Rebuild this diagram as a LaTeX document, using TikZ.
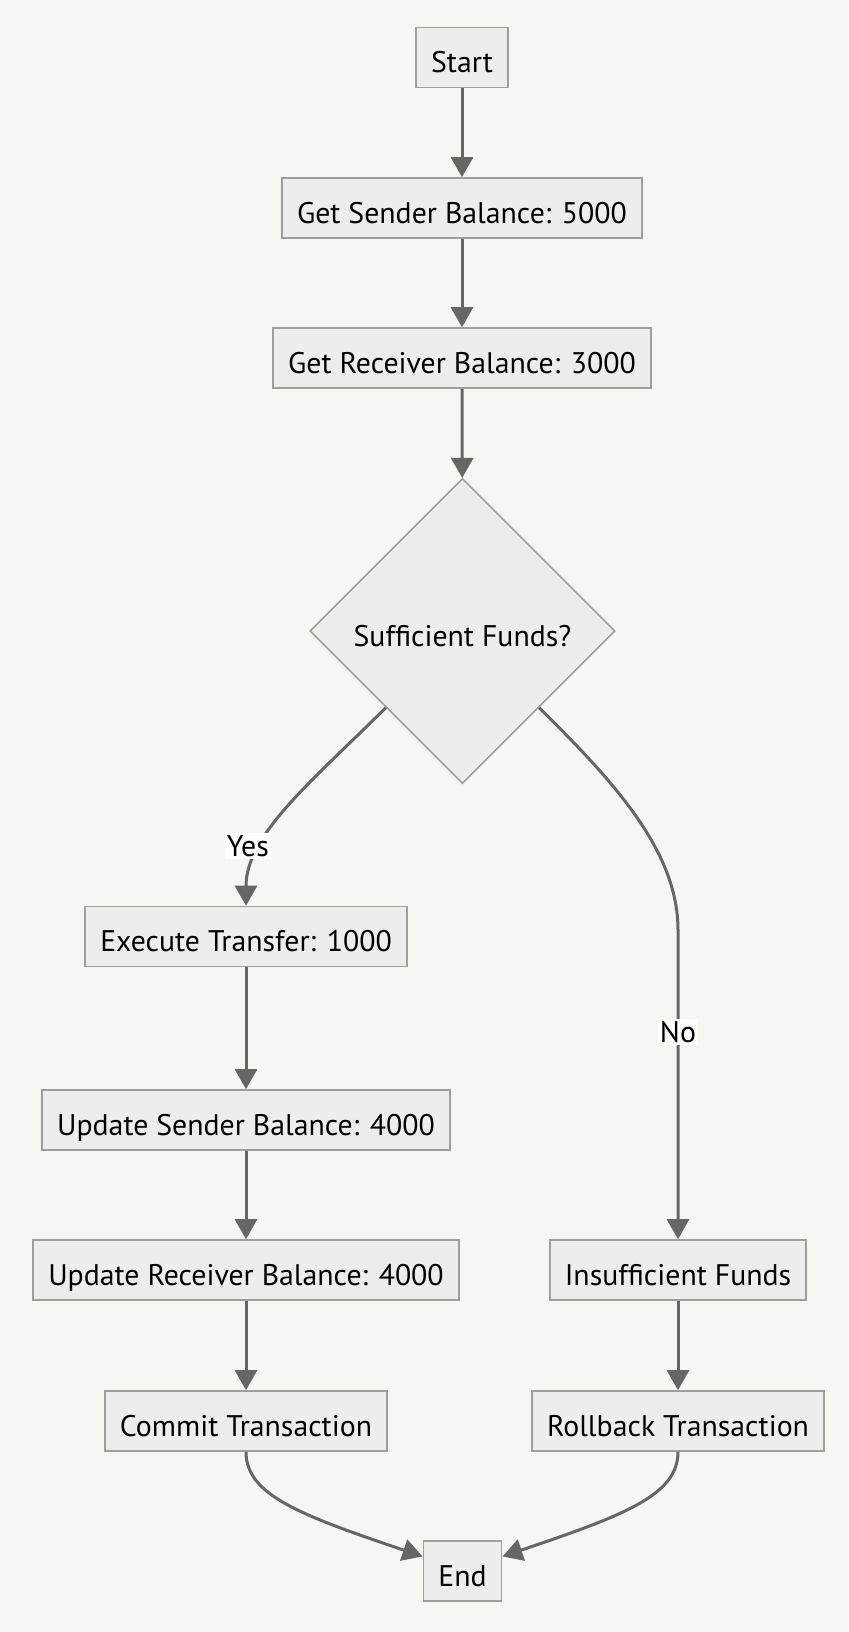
\documentclass[tikz,border=0pt]{standalone}
\usepackage{fontspec}
\setmainfont{PT Sans}
\usetikzlibrary{arrows.meta,shapes.geometric}
\definecolor{bgcol}{HTML}{F7F6F3}
\definecolor{boxfill}{HTML}{EDEDED}
\definecolor{boxline}{HTML}{9E9E9E}
\definecolor{edgecol}{HTML}{666666}
\begin{document}
\begin{tikzpicture}[x=0.5pt,y=-0.5pt,
        box/.style={draw=boxline,fill=boxfill,line width=0.8pt,minimum height=30pt,inner xsep=7.5pt,inner ysep=0pt,text height=15pt,text depth=0pt,font=\fontsize{14.9}{17}\selectfont},
        decision/.style={box,diamond,aspect=1,minimum width=152.5pt,minimum height=152.5pt,inner sep=0pt},
        flow/.style={draw=edgecol,line width=1.5pt,-{Triangle[length=10pt,width=11pt]}},
        lbl/.style={fill=white,inner sep=1pt,font=\fontsize{14.9}{17}\selectfont}]
            \fill[bgcol] (0,0) rectangle (848,1632);
            \node[box] (start) at (462,57.5) {Start};
            \node[box] (getsend) at (462,208) {Get Sender Balance: 5000};
            \node[box] (getrecv) at (462,358) {Get Receiver Balance: 3000};
            \node[decision] (funds) at (462.5,631) {Sufficient Funds?};
            \node[box] (exec) at (246,936.5) {Execute Transfer: 1000};
            \node[box] (updsend) at (246,1120) {Update Sender Balance: 4000};
            \node[box] (updrecv) at (246,1270) {Update Receiver Balance: 4000};
            \node[box] (commit) at (246,1421) {Commit Transaction};
            \node[box] (insuff) at (678,1270) {Insufficient Funds};
            \node[box] (rollback) at (678,1421) {Rollback Transaction};
            \node[box] (stop) at (462.5,1571) {End};

            \draw[flow] (start) -- (getsend);
            \draw[flow] (getsend) -- (getrecv);
            \draw[flow] (getrecv) -- (funds);
            \draw[flow] (funds.south west) .. controls (310,783) and (246,835) .. node[lbl,pos=0.7,xshift=-7pt] {Yes} (exec.north);
            \draw[flow] (funds.south east) .. controls (612,780) and (678,850) .. (678,930) -- node[lbl,pos=0.33] {No} (insuff.north);
            \draw[flow] (exec) -- (updsend);
            \draw[flow] (updsend) -- (updrecv);
            \draw[flow] (updrecv) -- (commit);
            \draw[flow] (insuff) -- (rollback);
            \draw[flow] (commit.south) .. controls (246,1495) and (300,1515) .. (stop.160);
            \draw[flow] (rollback.south) .. controls (678,1495) and (625,1515) .. (stop.20);
\end{tikzpicture}
\end{document}
